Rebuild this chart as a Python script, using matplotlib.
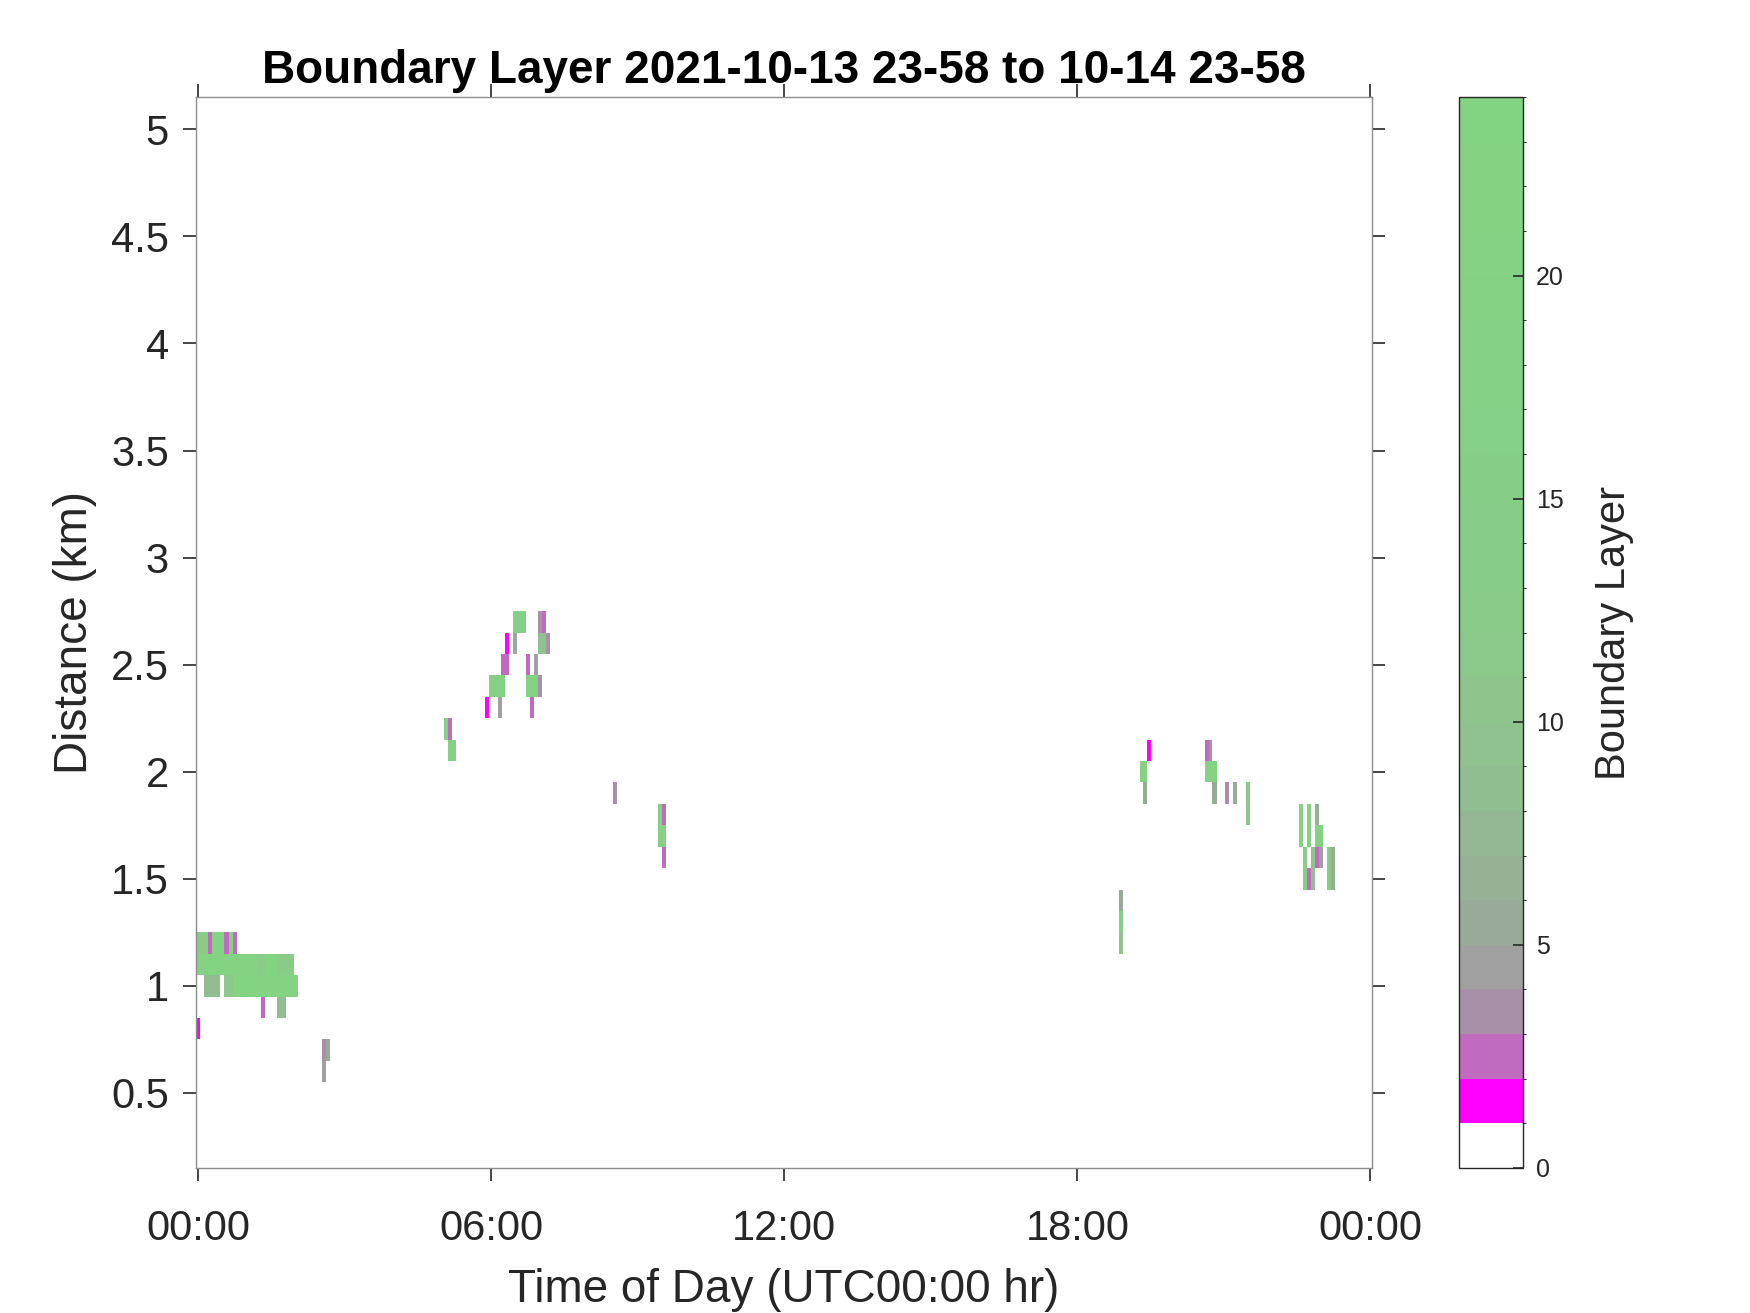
import numpy as np
import matplotlib
matplotlib.use("Agg")
import matplotlib.pyplot as plt
from matplotlib.colors import ListedColormap, BoundaryNorm

plt.rcParams["font.family"] = ["Liberation Sans", "DejaVu Sans"]

# boundary-layer cells: start/end minute after 00:00, range gate centre (km), class value
cell_t0 = [-3, 12, 17, 32, 37, 42, -3, 72, 82, 97, 7, 32, 42, 77, 97, -3, 152, 157, 152,
           302, 307, 307, 352, 368, 357, 372, 377, 387, 387, 402, 412, 402, 417, 407, 417, 422, 417, 427,
           509, 565, 570, 565, 570,
           1166, 1157, 1161, 1237, 1242, 1237, 1246, 1261, 1271, 1287, 1287, 1131, 1131, 1131,
           1352, 1352, 1357, 1357, 1362, 1362, 1362, 1367, 1367, 1372, 1372, 1372, 1377, 1377,
           1387, 1387, 1392, 1392]
cell_t1 = [12, 17, 32, 37, 42, 47, 72, 82, 97, 117, 27, 42, 122, 82, 107, 2, 157, 162, 157,
           307, 312, 317, 357, 373, 377, 382, 382, 402, 392, 407, 417, 417, 422, 412, 422, 427, 427, 432,
           514, 570, 575, 575, 575,
           1171, 1166, 1166, 1242, 1246, 1251, 1251, 1266, 1276, 1292, 1292, 1136, 1136, 1136,
           1357, 1357, 1362, 1362, 1367, 1367, 1367, 1372, 1372, 1377, 1377, 1377, 1382, 1382,
           1392, 1392, 1397, 1397]
cell_z = [1.2, 1.2, 1.2, 1.2, 1.2, 1.2, 1.1, 1.1, 1.1, 1.1, 1.0, 1.0, 1.0, 0.9, 0.9, 0.8, 0.7, 0.7, 0.6,
          2.2, 2.2, 2.1, 2.3, 2.3, 2.4, 2.5, 2.6, 2.7, 2.6, 2.5, 2.5, 2.4, 2.4, 2.3, 2.7, 2.7, 2.6, 2.6,
          1.9, 1.8, 1.8, 1.7, 1.6,
          2.1, 2.0, 1.9, 2.1, 2.1, 2.0, 1.9, 1.9, 1.9, 1.9, 1.8, 1.4, 1.3, 1.2,
          1.8, 1.7, 1.6, 1.5, 1.8, 1.7, 1.5, 1.6, 1.5, 1.8, 1.7, 1.6, 1.7, 1.6,
          1.6, 1.5, 1.6, 1.5]
cell_val = [12, 2, 20, 2, 20, 2, 21, 14, 21, 12, 8, 11, 21, 2, 8, 1, 3, 5, 4,
            18, 2, 19, 1, 4, 18, 2, 1, 17, 5, 2, 4, 19, 3, 2, 3, 2, 9, 3,
            3, 18, 2, 17, 2,
            1, 18, 5, 2, 3, 19, 5, 3, 5, 10, 10, 5, 18, 10,
            19, 19, 19, 19, 19, 19, 2, 9, 9, 6, 19, 2, 19, 4,
            19, 19, 5, 5]

xtick_hr = [0, 6, 12, 18, 24]
xtick_labels = ["00:00", "06:00", "12:00", "18:00", "00:00"]
ytick_km = [0.5, 1, 1.5, 2, 2.5, 3, 3.5, 4, 4.5, 5]
ytick_labels = ["0.5", "1", "1.5", "2", "2.5", "3", "3.5", "4", "4.5", "5"]
cbar_ticks = [0, 5, 10, 15, 20]

# 24-level colormap: white, magenta, orchid, mauve, grey, then grey-green to green
anchor_idx = [2, 3, 4, 5, 8, 12, 23]
anchor_rgb = np.array([[192, 106, 192], [168, 144, 168], [160, 160, 160],
                       [152, 170, 152], [145, 190, 145], [136, 204, 136],
                       [130, 212, 130]]) / 255.0
levels = np.arange(2, 24)
ramp = np.column_stack([np.interp(levels, anchor_idx, anchor_rgb[:, c]) for c in range(3)])
colors = np.vstack([[1, 1, 1], [1, 0, 1], ramp])
cmap = ListedColormap(colors)
norm = BoundaryNorm(np.arange(25), 24)

# grid: 1-minute columns, 0.1 km gates
t_edges = np.arange(-3, 1443)
z_edges = np.round(np.arange(0.15, 5.16, 0.1), 3)
grid = np.zeros((len(z_edges) - 1, len(t_edges) - 1))
t_mid = t_edges[:-1] + 0.5
z_mid = z_edges[:-1] + 0.05
for t0, t1, z, v in zip(cell_t0, cell_t1, cell_z, cell_val):
    row = np.argmin(np.abs(z_mid - z))
    cols = (t_mid >= t0) & (t_mid < t1)
    grid[row, cols] = v

fig = plt.figure(figsize=(17.5, 13.13), dpi=100)
ax = fig.add_axes([0.112, 0.1105, 0.672, 0.8155])
mesh = ax.pcolormesh(t_edges / 60.0, z_edges, grid, cmap=cmap, norm=norm, shading="flat")

ax.set_xlim(-3 / 60.0, 1442 / 60.0)
ax.set_ylim(0.15, 5.15)
ax.set_xticks(xtick_hr)
ax.set_xticklabels(xtick_labels)
ax.set_yticks(ytick_km)
ax.set_yticklabels(ytick_labels)
ax.tick_params(axis="both", direction="out", top=True, right=True, length=9.5, width=1.2,
               color="#262626", labelcolor="#262626", labelsize=30)
ax.tick_params(axis="x", pad=20)
ax.tick_params(axis="y", pad=10)
for s in ax.spines.values():
    s.set_color("#8c8c8c")
    s.set_linewidth(1.0)

ax.set_xlabel("Time of Day (UTC00:00 hr)", fontsize=33, color="#262626", labelpad=14)
ax.set_ylabel("Distance (km)", fontsize=33, color="#262626", labelpad=10)
ax.text(0.5, 1.004, "Boundary Layer 2021-10-13 23-58 to 10-14 23-58", transform=ax.transAxes,
        ha="center", va="bottom", fontsize=33, fontweight="bold", color="black")

cax = fig.add_axes([0.8335, 0.1105, 0.037, 0.8155])
cb = fig.colorbar(mesh, cax=cax, ticks=cbar_ticks)
cb.ax.tick_params(direction="in", length=7, width=1.2, color="#262626", labelcolor="#262626",
                  labelsize=18, pad=9)
cb.outline.set_edgecolor("#262626")
cb.outline.set_linewidth(1.0)
cb.set_label("Boundary Layer", fontsize=30, color="#262626", labelpad=22)

fig.savefig("out.png", dpi=100)
